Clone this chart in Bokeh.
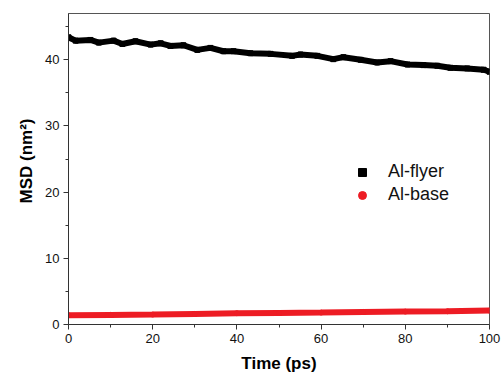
from bokeh.plotting import figure
from bokeh.models import Range1d, Legend, LegendItem, FixedTicker, Title
from bokeh.embed import file_html
from bokeh.resources import INLINE

# Al-flyer
flyer_t = [0, 1.7, 5.2, 7.2, 10.7, 12.8, 15.9, 19.5, 21.9, 24.2, 27.3, 30.6, 33.7,
           36.8, 39.2, 43.2, 48, 53.1, 55.1, 59.1, 62.9, 65.3, 69.4, 73.3, 76.5,
           80.5, 84.3, 87.6, 90.7, 94.7, 98.6, 100]
flyer_msd = [43.4, 42.9, 43.0, 42.6, 42.9, 42.4, 42.8, 42.3, 42.5, 42.1, 42.2, 41.5,
             41.8, 41.3, 41.3, 41.0, 40.9, 40.6, 40.8, 40.6, 40.1, 40.4, 40.0, 39.6,
             39.8, 39.3, 39.2, 39.1, 38.8, 38.7, 38.5, 38.2]

# Al-base
base_t = [0, 10, 20, 30, 40, 50, 60, 70, 80, 90, 100]
base_msd = [1.4, 1.45, 1.5, 1.6, 1.7, 1.75, 1.8, 1.9, 1.95, 2.0, 2.1]

x_ticks = [0, 20, 40, 60, 80, 100]
y_ticks = [0, 10, 20, 30, 40]

FONT = "Liberation Sans"
RED = "#ED1C24"

p = figure(width=502, height=377, output_backend="svg", toolbar_location=None,
           x_range=Range1d(0, 100), y_range=Range1d(0, 47),
           min_border_left=68, min_border_right=13, min_border_top=13, min_border_bottom=53)
p.xgrid.visible = False
p.ygrid.visible = False
p.outline_line_color = "#555555"
p.outline_line_width = 1
p.background_fill_color = "white"
p.border_fill_color = "white"

# data
p.line(flyer_t, flyer_msd, line_color="black", line_width=6)
r1 = p.scatter(flyer_t, flyer_msd, marker="square", size=5, color="black")
p.line(base_t, base_msd, line_color=RED, line_width=6)
r2 = p.scatter(base_t, base_msd, marker="circle", size=5, color=RED)

for ax, ticks in ((p.xaxis[0], x_ticks), (p.yaxis[0], y_ticks)):
    ax.ticker = FixedTicker(ticks=ticks,
                            minor_ticks=[t + (ticks[1] - ticks[0]) / 2 for t in ticks[:-1]] +
                            ([45] if ticks is y_ticks else []))
    ax.axis_line_color = "#333333"
    ax.major_tick_line_color = "#333333"
    ax.minor_tick_line_color = "#333333"
    ax.major_tick_out = 5
    ax.major_tick_in = 0
    ax.minor_tick_out = 3
    ax.minor_tick_in = 0
    ax.major_label_text_font = FONT
    ax.major_label_text_font_size = "13px"
    ax.major_label_text_color = "#111111"
    ax.major_label_standoff = 4
    ax.axis_label_text_font = FONT
    ax.axis_label_text_font_style = "bold"
    ax.axis_label_text_font_size = "17px"
    ax.axis_label_text_color = "black"

p.xaxis.axis_label = "Time (ps)"
p.xaxis.axis_label_standoff = 8

# y-axis title, slightly above frame centre as in the reference
p.add_layout(Title(text="MSD (nm²)", align="left", offset=121, standoff=14,
                   text_font=FONT, text_font_style="bold", text_font_size="17px",
                   text_color="black"), "left")

legend = Legend(items=[LegendItem(label="Al-flyer", renderers=[r1]),
                       LegendItem(label="Al-base", renderers=[r2])],
                location=(284, 119), margin=0, padding=0, spacing=2,
                glyph_width=20, glyph_height=20, label_height=20,
                label_standoff=16, label_text_font=FONT, label_text_font_size="18px",
                label_text_color="#111111",
                border_line_color=None, background_fill_alpha=0)
p.add_layout(legend)

open("out.html", "w").write(file_html(p, INLINE))
